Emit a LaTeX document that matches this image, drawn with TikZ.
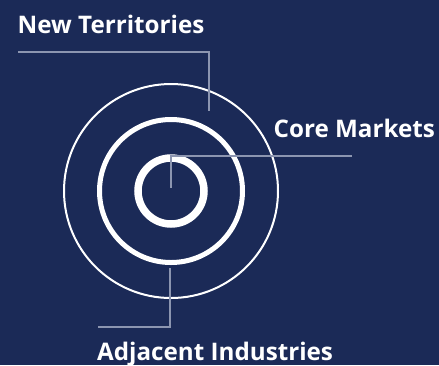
\documentclass[tikz,border=0pt]{standalone}
\usepackage{fontspec}
\setmainfont{Open Sans}
\definecolor{navy}{HTML}{1B2A57}
\definecolor{leader}{HTML}{8C95B0}
\begin{document}
\begin{tikzpicture}[x=1pt,y=-1pt,
  ring/.style={draw=white},
  leaderline/.style={draw=leader,line width=2pt},
  lbl/.style={text=white,font=\fontsize{24.2}{29}\selectfont\bfseries,inner sep=0pt,anchor=base west}]
\fill[navy] (0,0) rectangle (439,365);
\useasboundingbox (0,0) rectangle (439,365);
\coordinate (c) at (171,191);
\draw[ring,line width=2pt] (c) circle[radius=107];
\draw[ring,line width=5pt] (c) circle[radius=71.5];
\draw[ring,line width=7.5pt] (c) circle[radius=33];
% labels
\node[lbl] (nt) at (17.5,33) {New Territories};
\node[lbl] (cm) at (273.5,137) {Core Markets};
\node[lbl] (ai) at (97,360.5) {Adjacent Industries};
% leaders
\coordinate (nt1) at (18,52);
\coordinate (nt2) at (209,52);
\coordinate (nt3) at (209,111);
\draw[leaderline] (nt1) -- (nt2) -- (nt3);
\coordinate (cm1) at (352,156);
\coordinate (cm2) at (171,156);
\coordinate (cm3) at (171,188);
\draw[leaderline] (cm1) -- (cm2) -- (cm3);
\coordinate (ai1) at (170,268);
\coordinate (ai2) at (170,327);
\coordinate (ai3) at (98,327);
\draw[leaderline] (ai1) -- (ai2) -- (ai3);
\end{tikzpicture}
\end{document}
